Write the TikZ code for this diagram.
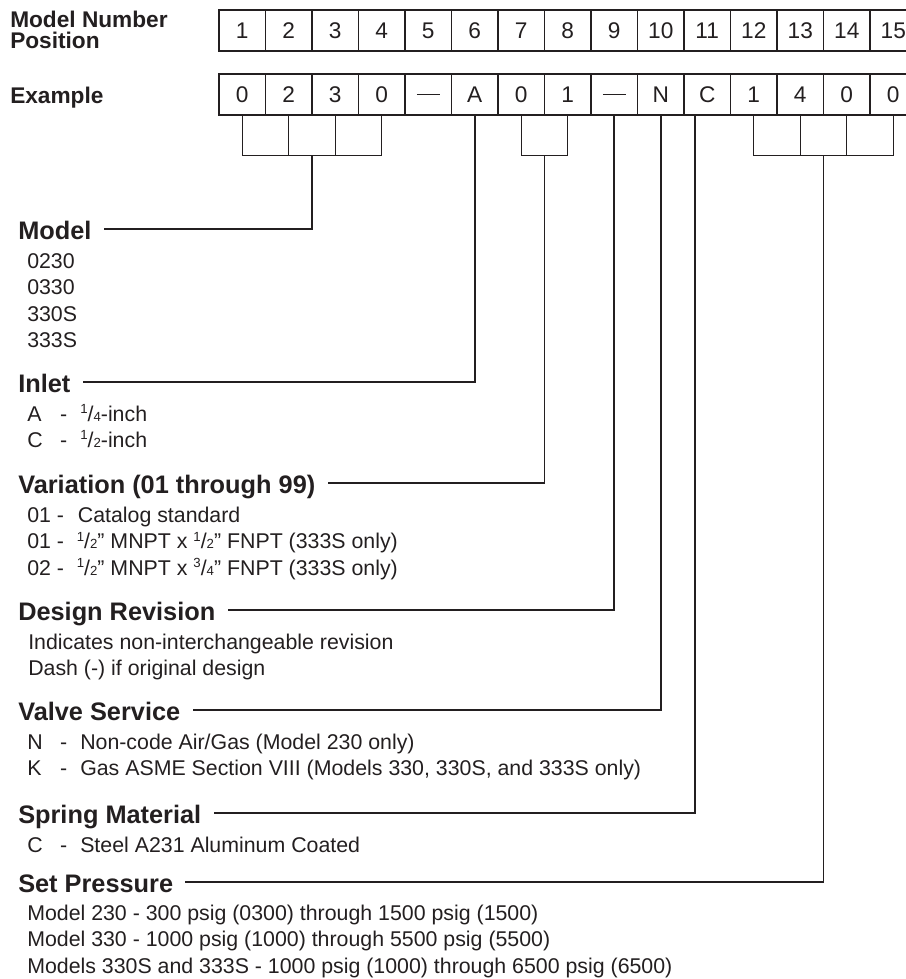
\documentclass[tikz,border=0pt]{standalone}
\usepackage{fontspec}
\setmainfont{Liberation Sans}
\usetikzlibrary{calc,positioning}
\definecolor{ink}{RGB}{35,31,32}
\tikzset{
	cell/.style={draw=ink, line width=0.8pt, minimum width=34.875pt, minimum height=30.75pt, inner sep=0pt, text height=12.2pt, text depth=0pt, text=ink, font=\fontsize{17}{20}\selectfont},
	head/.style={anchor=base west, inner sep=0pt, text height=15pt, text depth=0pt, text=ink, font=\fontsize{19}{22}\selectfont\bfseries},
	toplabel/.style={anchor=base west, inner sep=0pt, text=ink, font=\fontsize{17}{20}\selectfont\bfseries},
	item/.style={anchor=base west, inner sep=0pt, text=ink, font=\fontsize{16}{19}\selectfont},
	brace/.style={draw=ink, line width=0.8pt},
	lead/.style={draw=ink, line width=1.3pt}
}
\newcommand{\fr}[2]{\raisebox{0.33em}{\scalebox{0.62}{#1}}/\scalebox{0.62}{#2}}
\newcommand{\opt}[2]{\makebox[24.75pt][l]{#1}\makebox[15pt][l]{-}#2}
\newcommand{\emrule}{\rule[0.32em]{1em}{0.065em}}

\begin{document}
\begin{tikzpicture}[x=0.75pt,y=-0.75pt]
	\useasboundingbox (0,0) rectangle (906,979);
%
	\node[toplabel] (mnum) at (10,27) {Model Number};
	\node[toplabel] (mpos) at (10,48.5) {Position};
	\node[toplabel] (expl) at (10,103) {Example};
%
	\foreach \t [count=\i] in {1,...,15}
		\node[cell] (p\i) at ({219+46.5*(\i-0.5)},30.5) {\t};
	\foreach \t [count=\i] in {0,2,3,0,\emrule,A,0,1,\emrule,N,C,1,4,0,0}
		\node[cell] (e\i) at ({219+46.5*(\i-0.5)},94.5) {\t};
%
	\node[head] (model) at (18,239) {Model};
	\node[item] (m1) at (27,268) {0230};
	\node[item] (m2) at (27,294.5) {0330};
	\node[item] (m3) at (27,321) {330S};
	\node[item] (m4) at (27,347.5) {333S};
%
	\node[head] (inlet) at (18,392) {Inlet};
	\node[item] (i1) at (27,421) {\opt{A}{\fr{1}{4}-inch}};
	\node[item] (i2) at (27,447) {\opt{C}{\fr{1}{2}-inch}};
%
	\node[head] (vari) at (18,493) {Variation (01 through 99)};
	\node[item] (v1) at (27,522) {01 -\hspace{0.65em}Catalog standard};
	\node[item] (v2) at (27,548.5) {01 -\hspace{0.6em}\fr{1}{2}” MNPT x \fr{1}{2}” FNPT (333S only)};
	\node[item] (v3) at (27,575) {02 -\hspace{0.6em}\fr{1}{2}” MNPT x \fr{3}{4}” FNPT (333S only)};
%
	\node[head] (desrev) at (18,620) {Design Revision};
	\node[item] (d1) at (28,649) {Indicates non-interchangeable revision};
	\node[item] (d2) at (28,675.5) {Dash (-) if original design};
%
	\node[head] (service) at (18,720) {Valve Service};
	\node[item] (s1) at (27,749) {\opt{N}{Non-code Air/Gas (Model 230 only)}};
	\node[item] (s2) at (27,775.5) {\opt{K}{Gas ASME Section VIII (Models 330, 330S, and 333S only)}};
%
	\node[head] (spring) at (18,823) {Spring Material};
	\node[item] (sp1) at (27,852) {\opt{C}{Steel A231 Aluminum Coated}};
%
	\node[head] (setp) at (18,892) {Set Pressure};
	\node[item] (sp2) at (27,920) {Model 230 - 300 psig (0300) through 1500 psig (1500)};
	\node[item] (sp3) at (27,946.5) {Model 330 - 1000 psig (1000) through 5500 psig (5500)};
	\node[item] (sp4) at (27,973) {Models 330S and 333S - 1000 psig (1000) through 6500 psig (6500)};
%
	% brackets under the example row
	\draw[brace] (e1.south) -- ++(0,40) -| (e4.south);
	\draw[brace] (e2.south) -- ++(0,40);
	\draw[brace] (e3.south) -- ++(0,40);
	\draw[brace] (e7.south) -- ++(0,40) -| (e8.south);
	\draw[brace] (e12.south) -- ++(0,40) -| (e15.south);
	\draw[brace] (e13.south) -- ++(0,40);
	\draw[brace] (e14.south) -- ++(0,40);
	\coordinate (mdl) at ($(e2.south)!0.5!(e3.south)+(0,40)$);
	\coordinate (var) at ($(e7.south)!0.5!(e8.south)+(0,40)$);
	\coordinate (prs) at ($(e13.south)!0.5!(e14.south)+(0,40)$);
%
	% leads to the headings
	\draw[lead] (mdl) |- ([xshift=9pt]model.east);
	\draw[lead] (e6.south) |- ([xshift=9pt]inlet.east);
	\draw[lead] (var) |- ([xshift=9pt]vari.east);
	\draw[lead] (e9.south) |- ([xshift=9pt]desrev.east);
	\draw[lead] (e10.south) |- ([xshift=9pt]service.east);
	\draw[lead] ([xshift=-9pt]e11.south) |- ([xshift=9pt]spring.east);
	\draw[lead] (prs) |- ([xshift=9pt]setp.east);
\end{tikzpicture}
\end{document}
